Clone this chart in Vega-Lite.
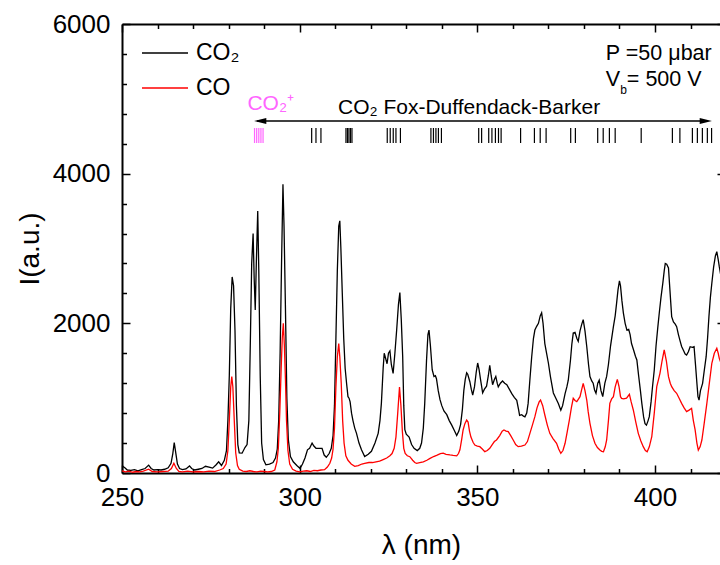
{
"$schema": "https://vega.github.io/schema/vega-lite/v6.json",
"width": 598, "height": 449,
"autosize": "none",
"padding": {"left": 122, "top": 24, "right": 0, "bottom": 92},
"background": "white",
"config": {"font": "Liberation Sans", "view": {"stroke": null},
  "axis": {"grid": false, "domainColor": "black", "tickColor": "black", "labelColor": "black", "titleColor": "black", "domainWidth": 2, "tickWidth": 1.5, "labelFont": "Liberation Sans", "titleFont": "Liberation Sans", "titleFontWeight": "normal", "labelFlush": false, "labelOverlap": false}},
"datasets": {
"co2": [
{"nm":250.0,"I":95},{"nm":250.8,"I":70},{"nm":251.5,"I":40},{"nm":252.5,"I":35},{"nm":253.5,"I":45},{"nm":254.5,"I":30},{"nm":255.5,"I":45},{"nm":256.5,"I":60},{"nm":257.5,"I":105},{"nm":258.2,"I":60},{"nm":259,"I":40},{"nm":260,"I":45},{"nm":261,"I":40},{"nm":262,"I":50},{"nm":263,"I":70},{"nm":263.8,"I":130},{"nm":264.3,"I":260},{"nm":264.7,"I":405},{"nm":265.1,"I":280},{"nm":265.6,"I":120},{"nm":266.2,"I":60},{"nm":267,"I":45},{"nm":268,"I":55},{"nm":269,"I":95},{"nm":269.6,"I":60},{"nm":270.5,"I":40},{"nm":271.5,"I":50},{"nm":272.5,"I":60},{"nm":273.5,"I":90},{"nm":274.5,"I":80},{"nm":275.5,"I":65},{"nm":276.5,"I":110},{"nm":277.2,"I":150},{"nm":278,"I":100},{"nm":278.8,"I":170},{"nm":279.4,"I":300},{"nm":279.8,"I":700},{"nm":280.2,"I":1300},{"nm":280.6,"I":2200},{"nm":281.0,"I":2620},{"nm":281.4,"I":2500},{"nm":281.8,"I":1900},{"nm":282.2,"I":900},{"nm":282.6,"I":380},{"nm":283.0,"I":270},{"nm":283.8,"I":265},{"nm":284.6,"I":340},{"nm":285.2,"I":380},{"nm":285.7,"I":700},{"nm":286.1,"I":1700},{"nm":286.5,"I":2800},{"nm":286.9,"I":3200},{"nm":287.2,"I":2600},{"nm":287.5,"I":2180},{"nm":287.8,"I":2800},{"nm":288.2,"I":3500},{"nm":288.5,"I":2700},{"nm":288.9,"I":1300},{"nm":289.3,"I":400},{"nm":289.8,"I":180},{"nm":290.5,"I":110},{"nm":291.5,"I":120},{"nm":292.5,"I":140},{"nm":293.2,"I":200},{"nm":293.7,"I":320},{"nm":294.1,"I":700},{"nm":294.5,"I":1600},{"nm":294.9,"I":2800},{"nm":295.3,"I":3860},{"nm":295.6,"I":3300},{"nm":296.0,"I":2200},{"nm":296.4,"I":1000},{"nm":296.8,"I":450},{"nm":297.4,"I":220},{"nm":298.2,"I":150},{"nm":299.2,"I":100},{"nm":300.1,"I":60},{"nm":300.8,"I":120},{"nm":301.5,"I":200},{"nm":302.2,"I":310},{"nm":302.8,"I":330},{"nm":303.5,"I":400},{"nm":304.0,"I":360},{"nm":304.6,"I":330},{"nm":305.5,"I":330},{"nm":306.3,"I":330},{"nm":306.9,"I":240},{"nm":307.5,"I":210},{"nm":308.3,"I":260},{"nm":308.9,"I":330},{"nm":309.4,"I":500},{"nm":309.8,"I":900},{"nm":310.2,"I":1800},{"nm":310.6,"I":2700},{"nm":311.0,"I":3300},{"nm":311.3,"I":3370},{"nm":311.6,"I":3000},{"nm":312.0,"I":2400},{"nm":312.4,"I":1800},{"nm":312.8,"I":1400},{"nm":313.2,"I":1200},{"nm":313.6,"I":1020},{"nm":313.9,"I":1000},{"nm":314.2,"I":950},{"nm":314.6,"I":800},{"nm":315.0,"I":700},{"nm":315.5,"I":600},{"nm":316.0,"I":530},{"nm":316.7,"I":400},{"nm":317.4,"I":310},{"nm":318.3,"I":220},{"nm":319.3,"I":250},{"nm":320.2,"I":290},{"nm":321.2,"I":400},{"nm":322.1,"I":530},{"nm":322.6,"I":700},{"nm":323.0,"I":930},{"nm":323.5,"I":1400},{"nm":323.8,"I":1600},{"nm":324.2,"I":1530},{"nm":324.6,"I":1460},{"nm":325.0,"I":1600},{"nm":325.4,"I":1630},{"nm":325.8,"I":1450},{"nm":326.3,"I":1330},{"nm":326.8,"I":1600},{"nm":327.3,"I":1910},{"nm":327.8,"I":2250},{"nm":328.2,"I":2410},{"nm":328.6,"I":2050},{"nm":329.0,"I":1550},{"nm":329.3,"I":900},{"nm":329.6,"I":580},{"nm":330.0,"I":520},{"nm":330.4,"I":500},{"nm":330.8,"I":480},{"nm":331.5,"I":380},{"nm":332.2,"I":330},{"nm":333.1,"I":300},{"nm":333.8,"I":330},{"nm":334.3,"I":400},{"nm":334.8,"I":600},{"nm":335.2,"I":930},{"nm":335.7,"I":1500},{"nm":336.1,"I":1850},{"nm":336.4,"I":1910},{"nm":336.8,"I":1700},{"nm":337.3,"I":1380},{"nm":337.8,"I":1290},{"nm":338.2,"I":1300},{"nm":338.5,"I":1260},{"nm":339.0,"I":1100},{"nm":339.5,"I":980},{"nm":340.0,"I":900},{"nm":340.6,"I":830},{"nm":341.4,"I":780},{"nm":342.1,"I":700},{"nm":342.8,"I":640},{"nm":343.5,"I":570},{"nm":344.2,"I":500},{"nm":344.8,"I":560},{"nm":345.3,"I":650},{"nm":345.8,"I":850},{"nm":346.2,"I":1100},{"nm":346.6,"I":1250},{"nm":347.0,"I":1340},{"nm":347.3,"I":1320},{"nm":347.9,"I":1220},{"nm":348.3,"I":1120},{"nm":348.7,"I":1040},{"nm":349.2,"I":1150},{"nm":349.7,"I":1350},{"nm":350.1,"I":1470},{"nm":350.5,"I":1380},{"nm":350.9,"I":1250},{"nm":351.5,"I":1070},{"nm":352.0,"I":1120},{"nm":352.6,"I":1160},{"nm":353.1,"I":1300},{"nm":353.5,"I":1440},{"nm":353.9,"I":1300},{"nm":354.3,"I":1180},{"nm":354.8,"I":1250},{"nm":355.2,"I":1290},{"nm":355.6,"I":1200},{"nm":355.9,"I":1150},{"nm":356.5,"I":1200},{"nm":357.1,"I":1230},{"nm":357.7,"I":1200},{"nm":358.3,"I":1180},{"nm":359.0,"I":1120},{"nm":359.7,"I":1060},{"nm":360.4,"I":1010},{"nm":361.1,"I":970},{"nm":361.6,"I":850},{"nm":361.9,"I":770},{"nm":362.5,"I":780},{"nm":363.0,"I":760},{"nm":363.4,"I":750},{"nm":363.9,"I":800},{"nm":364.3,"I":930},{"nm":364.8,"I":1250},{"nm":365.3,"I":1550},{"nm":365.8,"I":1800},{"nm":366.2,"I":1910},{"nm":366.7,"I":1960},{"nm":367.2,"I":2000},{"nm":367.7,"I":2100},{"nm":368.1,"I":2140},{"nm":368.5,"I":2000},{"nm":369.0,"I":1730},{"nm":369.5,"I":1600},{"nm":370.0,"I":1470},{"nm":370.6,"I":1280},{"nm":371.4,"I":1070},{"nm":372.1,"I":1000},{"nm":372.8,"I":930},{"nm":373.5,"I":840},{"nm":374.0,"I":900},{"nm":374.7,"I":1060},{"nm":375.2,"I":1150},{"nm":375.6,"I":1240},{"nm":376.2,"I":1500},{"nm":376.6,"I":1720},{"nm":377.0,"I":1870},{"nm":377.5,"I":1880},{"nm":378.0,"I":1800},{"nm":378.4,"I":1760},{"nm":378.9,"I":1900},{"nm":379.4,"I":1990},{"nm":379.8,"I":2050},{"nm":380.3,"I":1900},{"nm":380.8,"I":1690},{"nm":381.3,"I":1450},{"nm":381.7,"I":1290},{"nm":382.2,"I":1230},{"nm":382.6,"I":1200},{"nm":383.0,"I":1110},{"nm":383.4,"I":1065},{"nm":383.9,"I":1200},{"nm":384.3,"I":1240},{"nm":384.8,"I":1100},{"nm":385.3,"I":1020},{"nm":385.9,"I":1200},{"nm":386.4,"I":1290},{"nm":386.9,"I":1450},{"nm":387.5,"I":1700},{"nm":388.3,"I":1955},{"nm":388.8,"I":2100},{"nm":389.2,"I":2270},{"nm":389.6,"I":2450},{"nm":390.0,"I":2566},{"nm":390.3,"I":2500},{"nm":390.7,"I":2300},{"nm":391.1,"I":2140},{"nm":391.6,"I":2000},{"nm":392.1,"I":1910},{"nm":392.6,"I":1920},{"nm":393.0,"I":1850},{"nm":393.4,"I":1730},{"nm":394.0,"I":1640},{"nm":394.5,"I":1560},{"nm":394.9,"I":1510},{"nm":395.4,"I":1300},{"nm":395.9,"I":1100},{"nm":396.3,"I":930},{"nm":396.8,"I":750},{"nm":397.2,"I":660},{"nm":397.6,"I":640},{"nm":398.0,"I":690},{"nm":398.4,"I":753},{"nm":398.9,"I":950},{"nm":399.3,"I":1150},{"nm":399.8,"I":1376},{"nm":400.3,"I":1700},{"nm":400.8,"I":1950},{"nm":401.2,"I":2134},{"nm":401.7,"I":2350},{"nm":402.2,"I":2535},{"nm":402.6,"I":2700},{"nm":402.9,"I":2800},{"nm":403.3,"I":2790},{"nm":403.8,"I":2740},{"nm":404.2,"I":2450},{"nm":404.7,"I":2090},{"nm":405.2,"I":2020},{"nm":405.7,"I":1990},{"nm":406.1,"I":1955},{"nm":406.6,"I":1850},{"nm":407.1,"I":1760},{"nm":407.5,"I":1690},{"nm":408.0,"I":1640},{"nm":408.5,"I":1590},{"nm":408.9,"I":1577},{"nm":409.4,"I":1620},{"nm":409.9,"I":1688},{"nm":410.5,"I":1680},{"nm":411.0,"I":1688},{"nm":411.4,"I":1450},{"nm":411.8,"I":1200},{"nm":412.1,"I":1020},{"nm":412.4,"I":975},{"nm":412.8,"I":1100},{"nm":413.4,"I":1198},{"nm":413.9,"I":1380},{"nm":414.4,"I":1554},{"nm":414.8,"I":1800},{"nm":415.2,"I":2100},{"nm":415.6,"I":2350},{"nm":416.0,"I":2535},{"nm":416.5,"I":2750},{"nm":417.0,"I":2900},{"nm":417.4,"I":2957},{"nm":417.8,"I":2850},{"nm":418.1,"I":2757},{"nm":418.5,"I":2650}
],
"co": [
{"nm":250.0,"I":30},{"nm":251,"I":15},{"nm":252,"I":25},{"nm":253,"I":10},{"nm":254,"I":20},{"nm":255,"I":15},{"nm":256,"I":25},{"nm":257.5,"I":50},{"nm":258.5,"I":20},{"nm":260,"I":15},{"nm":261.5,"I":20},{"nm":263,"I":25},{"nm":263.9,"I":60},{"nm":264.6,"I":130},{"nm":265.3,"I":60},{"nm":266,"I":20},{"nm":267,"I":15},{"nm":268.5,"I":25},{"nm":270,"I":15},{"nm":271.5,"I":20},{"nm":273,"I":15},{"nm":274.5,"I":25},{"nm":276,"I":20},{"nm":277.5,"I":40},{"nm":278.5,"I":60},{"nm":279.3,"I":120},{"nm":279.8,"I":300},{"nm":280.2,"I":700},{"nm":280.6,"I":1150},{"nm":280.9,"I":1290},{"nm":281.2,"I":1150},{"nm":281.6,"I":700},{"nm":282.0,"I":270},{"nm":282.5,"I":100},{"nm":283,"I":50},{"nm":284,"I":25},{"nm":285,"I":20},{"nm":286,"I":30},{"nm":287,"I":20},{"nm":288,"I":15},{"nm":289,"I":25},{"nm":290,"I":20},{"nm":291,"I":15},{"nm":292,"I":20},{"nm":293,"I":40},{"nm":293.6,"I":150},{"nm":294.0,"I":330},{"nm":294.4,"I":800},{"nm":294.8,"I":1400},{"nm":295.1,"I":1800},{"nm":295.4,"I":2000},{"nm":295.7,"I":1700},{"nm":296.0,"I":1250},{"nm":296.3,"I":700},{"nm":296.7,"I":300},{"nm":297.2,"I":120},{"nm":298,"I":50},{"nm":299,"I":25},{"nm":300,"I":15},{"nm":301,"I":25},{"nm":302,"I":30},{"nm":303,"I":20},{"nm":304,"I":35},{"nm":305,"I":30},{"nm":306,"I":40},{"nm":307,"I":45},{"nm":307.8,"I":80},{"nm":308.5,"I":130},{"nm":309.0,"I":200},{"nm":309.4,"I":320},{"nm":309.8,"I":600},{"nm":310.2,"I":1150},{"nm":310.6,"I":1550},{"nm":311.0,"I":1730},{"nm":311.3,"I":1550},{"nm":311.7,"I":1200},{"nm":312.1,"I":700},{"nm":312.5,"I":400},{"nm":313.0,"I":230},{"nm":313.6,"I":170},{"nm":314.5,"I":120},{"nm":315.5,"I":90},{"nm":316.5,"I":100},{"nm":317.5,"I":120},{"nm":318.3,"I":130},{"nm":319.5,"I":140},{"nm":320.5,"I":140},{"nm":321.5,"I":150},{"nm":322.5,"I":160},{"nm":323.5,"I":180},{"nm":324.5,"I":200},{"nm":325.4,"I":230},{"nm":326.0,"I":260},{"nm":326.6,"I":330},{"nm":327.1,"I":480},{"nm":327.6,"I":800},{"nm":328.1,"I":1150},{"nm":328.5,"I":900},{"nm":328.9,"I":560},{"nm":329.3,"I":330},{"nm":329.7,"I":260},{"nm":330.3,"I":230},{"nm":331.0,"I":218},{"nm":331.8,"I":170},{"nm":332.4,"I":140},{"nm":332.9,"I":130},{"nm":333.8,"I":140},{"nm":334.8,"I":150},{"nm":335.8,"I":170},{"nm":336.7,"I":196},{"nm":337.7,"I":220},{"nm":338.7,"I":240},{"nm":339.6,"I":260},{"nm":340.4,"I":265},{"nm":341.2,"I":250},{"nm":342.3,"I":241},{"nm":343.2,"I":235},{"nm":344.2,"I":230},{"nm":344.7,"I":260},{"nm":345.1,"I":310},{"nm":345.6,"I":450},{"nm":346.0,"I":575},{"nm":346.5,"I":660},{"nm":347.0,"I":708},{"nm":347.4,"I":680},{"nm":347.8,"I":560},{"nm":348.2,"I":480},{"nm":348.8,"I":410},{"nm":349.3,"I":374},{"nm":350.0,"I":360},{"nm":350.7,"I":352},{"nm":351.4,"I":320},{"nm":352.1,"I":285},{"nm":352.8,"I":300},{"nm":353.5,"I":330},{"nm":354.2,"I":380},{"nm":354.8,"I":420},{"nm":355.4,"I":441},{"nm":356.3,"I":500},{"nm":357.0,"I":560},{"nm":357.5,"I":575},{"nm":358.1,"I":560},{"nm":358.7,"I":553},{"nm":359.4,"I":500},{"nm":360.1,"I":441},{"nm":360.8,"I":380},{"nm":361.5,"I":352},{"nm":362.4,"I":360},{"nm":363.4,"I":374},{"nm":364.1,"I":420},{"nm":364.8,"I":530},{"nm":365.5,"I":640},{"nm":366.2,"I":753},{"nm":366.8,"I":870},{"nm":367.4,"I":950},{"nm":367.8,"I":975},{"nm":368.4,"I":900},{"nm":369.0,"I":775},{"nm":369.7,"I":640},{"nm":370.4,"I":530},{"nm":371.3,"I":460},{"nm":372.3,"I":397},{"nm":372.9,"I":320},{"nm":373.5,"I":263},{"nm":374.1,"I":300},{"nm":374.7,"I":397},{"nm":375.3,"I":550},{"nm":375.9,"I":708},{"nm":376.5,"I":880},{"nm":377.0,"I":998},{"nm":377.5,"I":970},{"nm":378.0,"I":953},{"nm":378.5,"I":990},{"nm":378.9,"I":1020},{"nm":379.4,"I":1120},{"nm":379.8,"I":1198},{"nm":380.3,"I":1100},{"nm":380.8,"I":975},{"nm":381.2,"I":820},{"nm":381.7,"I":664},{"nm":382.4,"I":500},{"nm":383.1,"I":397},{"nm":383.8,"I":340},{"nm":384.5,"I":307},{"nm":385.0,"I":290},{"nm":385.5,"I":285},{"nm":386.0,"I":350},{"nm":386.4,"I":441},{"nm":386.9,"I":700},{"nm":387.3,"I":931},{"nm":387.8,"I":990},{"nm":388.3,"I":1020},{"nm":388.8,"I":1150},{"nm":389.4,"I":1252},{"nm":389.9,"I":1150},{"nm":390.3,"I":1020},{"nm":390.6,"I":998},{"nm":391.2,"I":990},{"nm":392.0,"I":1000},{"nm":392.8,"I":1051},{"nm":393.3,"I":950},{"nm":393.9,"I":842},{"nm":394.6,"I":680},{"nm":395.3,"I":530},{"nm":396.0,"I":430},{"nm":396.7,"I":352},{"nm":397.3,"I":300},{"nm":397.8,"I":285},{"nm":398.4,"I":350},{"nm":399.1,"I":485},{"nm":399.8,"I":800},{"nm":400.5,"I":1153},{"nm":401.0,"I":1250},{"nm":401.4,"I":1332},{"nm":402.0,"I":1500},{"nm":402.6,"I":1644},{"nm":403.2,"I":1500},{"nm":403.8,"I":1287},{"nm":404.3,"I":1200},{"nm":404.7,"I":1153},{"nm":405.4,"I":1100},{"nm":406.1,"I":1065},{"nm":406.8,"I":1000},{"nm":407.5,"I":931},{"nm":408.2,"I":870},{"nm":408.9,"I":820},{"nm":409.6,"I":840},{"nm":410.3,"I":864},{"nm":410.8,"I":700},{"nm":411.3,"I":575},{"nm":411.8,"I":400},{"nm":412.2,"I":307},{"nm":412.7,"I":350},{"nm":413.2,"I":441},{"nm":413.9,"I":680},{"nm":414.6,"I":931},{"nm":415.3,"I":1200},{"nm":416.0,"I":1466},{"nm":416.7,"I":1600},{"nm":417.4,"I":1666},{"nm":417.8,"I":1600},{"nm":418.1,"I":1532},{"nm":418.5,"I":1480}
],
"fdb": [{"nm":303.38},{"nm":304.59},{"nm":305.99},{"nm":313.03},{"nm":313.45},{"nm":313.87},{"nm":314.29},{"nm":314.72},{"nm":324.65},{"nm":325.49},{"nm":326.34},{"nm":327.10},{"nm":328.36},{"nm":336.94},{"nm":337.65},{"nm":338.35},{"nm":339.05},{"nm":339.90},{"nm":350.39},{"nm":351.21},{"nm":353.21},{"nm":354.11},{"nm":355.09},{"nm":355.96},{"nm":356.70},{"nm":362.18},{"nm":366.07},{"nm":367.70},{"nm":369.36},{"nm":376.28},{"nm":377.60},{"nm":383.88},{"nm":385.43},{"nm":387.17},{"nm":388.80},{"nm":396.12},{"nm":404.90},{"nm":407.01},{"nm":410.53},{"nm":411.93},{"nm":413.34},{"nm":414.74},{"nm":415.93}],
"ion": [{"nm":287.3},{"nm":287.9},{"nm":288.5},{"nm":289.1},{"nm":289.7}]
},
"resolve": {"axis": {"x": "independent", "y": "independent"}},
"layer": [
{"data": {"name": "co2"}, "mark": {"type": "line", "strokeWidth": 1.3, "clip": true},
 "encoding": {
  "x": {"field": "nm", "type": "quantitative", "scale": {"domain": [250, 418.3], "nice": false, "zero": false},
   "axis": {"orient": "bottom", "values": [250,260,270,280,290,300,310,320,330,340,350,360,370,380,390,400,410],
     "labelExpr": "datum.value % 50 === 0 ? datum.label : ''",
     "tickSize": {"condition": {"test": "datum.value % 50 === 0", "value": -8}, "value": -4.5},
     "labelPadding": 19, "labelFontSize": 26, "title": "λ (nm)", "titleFontSize": 28, "titlePadding": 18}},
  "y": {"field": "I", "type": "quantitative", "scale": {"domain": [0, 6000], "nice": false},
   "axis": {"orient": "left", "values": [0,400,800,1200,1600,2000,2400,2800,3200,3600,4000,4400,4800,5200,5600,6000],
     "labelExpr": "datum.value % 2000 === 0 ? datum.label : ''",
     "format": "d",
     "tickSize": {"condition": {"test": "datum.value % 2000 === 0", "value": -8}, "value": -4.5},
     "labelPadding": 20, "labelFontSize": 26, "title": "I(a.u.)", "titleFontSize": 28, "titlePadding": 8}},
  "color": {"datum": "CO₂", "type": "nominal", "scale": {"domain": ["CO₂", "CO"], "range": ["#000000", "#ff0000"]},
   "legend": {"title": null, "orient": "none", "legendX": 30.5, "legendY": 16.5, "padding": 0, "symbolType": "M-2,0H2", "symbolSize": 529, "symbolStrokeWidth": 1.5, "labelFontSize": 23, "labelFont": "Liberation Sans", "labelColor": "black", "labelOffset": 18.5, "rowPadding": 10}}
 }},
{"data": {"name": "co"}, "mark": {"type": "line", "strokeWidth": 1.3, "clip": true},
 "encoding": {
  "x": {"field": "nm", "type": "quantitative", "axis": null},
  "y": {"field": "I", "type": "quantitative", "axis": null},
  "color": {"datum": "CO", "type": "nominal"}
 }},
{"data": {"name": "fdb"}, "mark": {"type": "rule", "color": "black", "strokeWidth": 1.2},
 "encoding": {
  "x": {"field": "nm", "type": "quantitative",
   "axis": {"orient": "top", "values": [250,260,270,280,290,300,310,320,330,340,350,360,370,380,390,400,410], "labels": false, "title": null,
     "tickSize": {"condition": {"test": "datum.value % 50 === 0", "value": -8}, "value": -4.5}}},
  "y": {"datum": 4410, "type": "quantitative",
   "axis": {"orient": "right", "values": [0, 2000, 4000, 6000], "labels": false, "title": null, "domain": false, "tickSize": -3}},
  "y2": {"datum": 4610}
 }},
{"data": {"name": "ion"}, "mark": {"type": "rule", "color": "#ff66ff", "strokeWidth": 1.2},
 "encoding": {
  "x": {"field": "nm", "type": "quantitative", "axis": null},
  "y": {"datum": 4410, "type": "quantitative", "axis": null},
  "y2": {"datum": 4610}
 }},
{"data": {"values": [{}]}, "mark": {"type": "rule", "color": "black", "strokeWidth": 1.3},
 "encoding": {
  "x": {"datum": 288, "type": "quantitative", "axis": null}, "x2": {"datum": 414},
  "y": {"datum": 4704, "type": "quantitative", "axis": null}
 }},
{"data": {"values": [{}]}, "mark": {"type": "point", "shape": "M-1,0L1,-0.5L1,0.5Z", "filled": true, "color": "black", "opacity": 1, "size": 150},
 "encoding": {
  "x": {"datum": 288.9, "type": "quantitative", "axis": null},
  "y": {"datum": 4704, "type": "quantitative", "axis": null}
 }},
{"data": {"values": [{}]}, "mark": {"type": "point", "shape": "M1,0L-1,-0.5L-1,0.5Z", "filled": true, "color": "black", "opacity": 1, "size": 150},
 "encoding": {
  "x": {"datum": 414.3, "type": "quantitative", "axis": null},
  "y": {"datum": 4704, "type": "quantitative", "axis": null}
 }},
{"data": {"values": [{}]}, "mark": {"type": "text", "text": "CO₂⁺", "align": "left", "baseline": "alphabetic", "fontSize": 21, "color": "#ff66ff", "font": "Liberation Sans"},
 "encoding": {
  "x": {"datum": 285.3, "type": "quantitative", "axis": null},
  "y": {"datum": 4851, "type": "quantitative", "axis": null}
 }},
{"data": {"values": [{}]}, "mark": {"type": "text", "text": "CO₂ Fox-Duffendack-Barker", "align": "left", "baseline": "alphabetic", "fontSize": 21, "color": "black", "font": "Liberation Sans"},
 "encoding": {
  "x": {"datum": 310.78, "type": "quantitative", "axis": null},
  "y": {"datum": 4791, "type": "quantitative", "axis": null}
 }},
{"data": {"values": [{}]}, "mark": {"type": "text", "text": "P =50 μbar", "align": "left", "baseline": "alphabetic", "fontSize": 21.5, "color": "black", "font": "Liberation Sans"},
 "encoding": {
  "x": {"datum": 386.18, "type": "quantitative", "axis": null},
  "y": {"datum": 5519, "type": "quantitative", "axis": null}
 }},
{"data": {"values": [{}]}, "mark": {"type": "text", "text": "V", "align": "left", "baseline": "alphabetic", "fontSize": 21.5, "color": "black", "font": "Liberation Sans"},
 "encoding": {
  "x": {"datum": 386.18, "type": "quantitative", "axis": null},
  "y": {"datum": 5171, "type": "quantitative", "axis": null}
 }},
{"data": {"values": [{}]}, "mark": {"type": "text", "text": "b", "align": "left", "baseline": "alphabetic", "fontSize": 12, "color": "black", "font": "Liberation Sans"},
 "encoding": {
  "x": {"datum": 390.2, "type": "quantitative", "axis": null},
  "y": {"datum": 5070, "type": "quantitative", "axis": null}
 }},
{"data": {"values": [{}]}, "mark": {"type": "text", "text": "= 500 V", "align": "left", "baseline": "alphabetic", "fontSize": 21.5, "color": "black", "font": "Liberation Sans"},
 "encoding": {
  "x": {"datum": 392.09, "type": "quantitative", "axis": null},
  "y": {"datum": 5171, "type": "quantitative", "axis": null}
 }}
]
}
